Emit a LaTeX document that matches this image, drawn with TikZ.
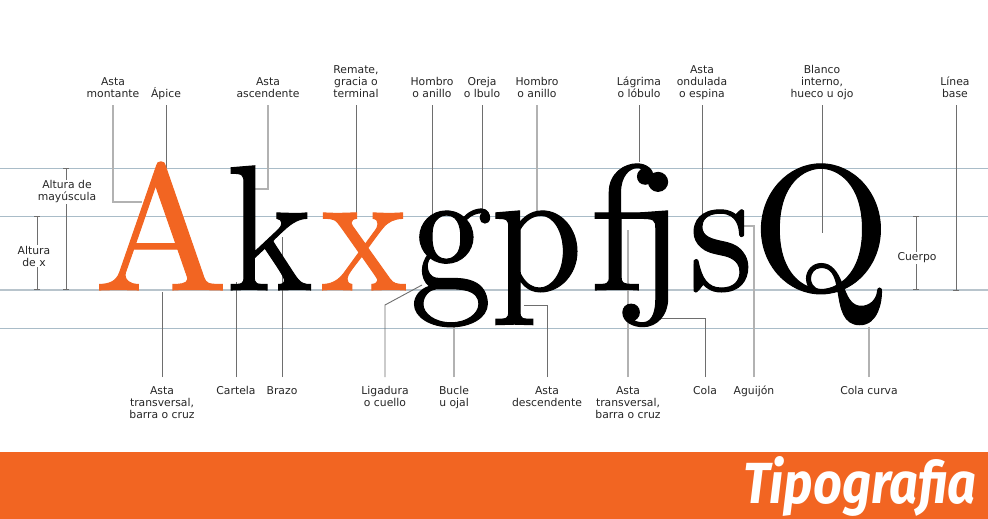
\documentclass[tikz,border=0pt]{standalone}
\usepackage{fontspec}
\usetikzlibrary{arrows.meta}
\newfontfamily\labfont{DejaVu Sans}
\newfontfamily\banfont{Fira Sans}
\newfontfamily\glyphfont{lmroman10-regular.otf}[FakeBold=0.6]
\newcommand{\narrowglyph}[1]{\scalebox{0.92}[1]{#1}}
\definecolor{brandorange}{HTML}{F26522}
\definecolor{guide}{HTML}{A9BCC8}
\definecolor{baseguide}{HTML}{B8C4CC}
\definecolor{leader}{HTML}{6E6E6E}
\definecolor{leaderlight}{HTML}{B2B2B2}
\begin{document}
\begin{tikzpicture}[x=1pt,y=-1pt,
  lab/.style={font=\labfont\fontsize{10.8}{12}\selectfont, align=center, inner sep=0pt, text=black!85},
  toplab/.style={lab, anchor=south, text depth=0pt},
  botlab/.style={lab, anchor=north},
  glyph/.style={font=\glyphfont\fontsize{179}{179}\selectfont, inner sep=0pt, anchor=base},
  lead/.style={draw=leader, line width=0.9pt},
  leadlt/.style={draw=leaderlight, line width=1.6pt},
  guideline/.style={draw=guide, line width=0.9pt},
  dimline/.style={draw=leader, line width=0.9pt, {Bar[width=6pt]}-{Bar[width=6pt]}},
  dimlab/.style={lab, fill=white, inner sep=1pt},
]
\useasboundingbox (0,0) rectangle (988,519);
\fill[white] (0,0) rectangle (988,519);

% guide lines
\foreach \yy in {168,216,328} \draw[guideline] (0,\yy) -- (988,\yy);
\draw[draw=baseguide, line width=1.8pt] (0,290) -- (988,290);

% coordinates (leader ends)
\coordinate (eAM) at (142,202);
\coordinate (eApice) at (166,168);
\coordinate (eAsc) at (253,189);
\coordinate (eRem) at (356,213);
\coordinate (eHom1) at (432,222);
\coordinate (eOre) at (482,218);
\coordinate (eHom2) at (537,217);
\coordinate (eLag) at (639,162);
\coordinate (eOnd) at (702,217);
\coordinate (eBla) at (822,233);
\coordinate (eLin) at (956,290);
\coordinate (eAT1) at (162,292);
\coordinate (eCart) at (236,282);
\coordinate (eBrazo) at (282,237);
\coordinate (cLig) at (385,305);
\coordinate (eLig) at (422,285);
\coordinate (eBuc) at (454,327);
\coordinate (eDesc) at (524,305);
\coordinate (eAT2) at (628,230);
\coordinate (eCola) at (660,318);
\coordinate (eAgui) at (742,226);
\coordinate (eColaC) at (869,327);

% top labels
\node[toplab] (tAM) at (113,98) {Asta\\montante};
\node[toplab] (tApice) at (166,98) {Ápice};
\node[toplab] (tAsc) at (268,98) {Asta\\ascendente};
\node[toplab] (tRem) at (356,98) {Remate,\\gracia o\\terminal};
\node[toplab] (tHom1) at (432,98) {Hombro\\o anillo};
\node[toplab] (tOre) at (482,98) {Oreja\\o lbulo};
\node[toplab] (tHom2) at (537,98) {Hombro\\o anillo};
\node[toplab] (tLag) at (639,98) {Lágrima\\o lóbulo};
\node[toplab] (tOnd) at (702,98) {Asta\\ondulada\\o espina};
\node[toplab] (tBla) at (822,98) {Blanco\\interno,\\hueco u ojo};
\node[toplab] (tLin) at (955,98) {Línea\\base};

% bottom labels
\node[botlab] (bAT1) at (162,386) {Asta\\transversal,\\barra o cruz};
\node[botlab] (bCart) at (236,386) {Cartela};
\node[botlab] (bBrazo) at (282,386) {Brazo};
\node[botlab] (bLig) at (385,386) {Ligadura\\o cuello};
\node[botlab] (bBuc) at (454,386) {Bucle\\u ojal};
\node[botlab] (bDesc) at (547,386) {Asta\\descendente};
\node[botlab] (bAT2) at (628,386) {Asta\\transversal,\\barra o cruz};
\node[botlab] (bCola) at (705,386) {Cola};
\node[botlab] (bAgui) at (754,386) {Aguijón};
\node[botlab] (bColaC) at (869,386) {Cola curva};

% leaders (top)
\draw[leadlt] ([yshift=-7pt]tAM.south) |- (eAM);
\draw[lead] ([yshift=-7pt]tApice.south) -- (eApice);
\draw[leadlt] ([yshift=-7pt]tAsc.south) |- (eAsc);
\draw[lead] ([yshift=-7pt]tRem.south) -- (eRem);
\draw[lead] ([yshift=-7pt]tHom1.south) -- (eHom1);
\draw[lead] ([yshift=-7pt]tOre.south) -- (eOre);
\draw[leadlt] ([yshift=-7pt]tHom2.south) -- (eHom2);
\draw[lead] ([yshift=-7pt]tLag.south) -- (eLag);
\draw[lead] ([yshift=-7pt]tOnd.south) -- (eOnd);
\draw[lead] ([yshift=-7pt]tBla.south) -- (eBla);
\draw[lead] ([yshift=-7pt]tLin.south -| eLin) -- (eLin);
\draw[lead] ([xshift=-3pt]eLin) -- ([xshift=3pt]eLin);

% leaders (bottom)
\draw[lead] ([yshift=9pt]bAT1.north) -- (eAT1);
\draw[lead] ([yshift=9pt]bCart.north) -- (eCart);
\draw[lead] ([yshift=9pt]bBrazo.north) -- (eBrazo);
\draw[lead] ([yshift=9pt]bLig.north) -- (cLig) -- (eLig);
\draw[leadlt] ([yshift=9pt]bBuc.north) -- (eBuc);
\draw[lead] ([yshift=9pt]bDesc.north) |- (eDesc);
\draw[leadlt] ([yshift=9pt]bAT2.north) -- (eAT2);
\draw[lead] ([yshift=9pt]bCola.north) |- (eCola);
\draw[leadlt] ([yshift=9pt]bAgui.north) |- (eAgui);
\draw[leadlt] ([yshift=9pt]bColaC.north) -- (eColaC);

% letters
\node[glyph, text=brandorange] (gA) at (161,290) {A};
\node[glyph] (gk) at (270,290) {\narrowglyph{k}};
\node[glyph, text=brandorange] (gx) at (364,290) {\narrowglyph{x}};
\node[glyph] (gg) at (451,290) {\narrowglyph{g}};
\node[glyph] (gp) at (537,290) {\narrowglyph{p}};
\node[glyph, anchor=base west] (gf) at (589,290) {f};
\node[glyph, anchor=base east] (gj) at (685,290) {j};
\node[glyph] (gs) at (721,290) {\narrowglyph{s}};
\node[glyph] (gQ) at (821,290) {Q};

% dimension markers
\coordinate (mTop) at (66,168);
\coordinate (mBot) at (66,290);
\draw[dimline] (mTop) -- (mBot);
\node[dimlab] (lMay) at (67,192) {Altura de\\mayúscula};
\coordinate (xTop) at (37,216);
\coordinate (xBot) at (37,290);
\draw[dimline] (xTop) -- (xBot);
\node[dimlab] (lX) at (34,256) {Altura\\de x};
\coordinate (cTop) at (916,216);
\coordinate (cBot) at (916,290);
\draw[dimline] (cTop) -- (cBot);
\node[dimlab] (lCuerpo) at (917,258) {Cuerpo};

% banner
\fill[brandorange] (0,452) rectangle (988,519);
\node[font=\banfont\bfseries\itshape\fontsize{58}{58}\selectfont, text=white, anchor=base east, inner sep=0pt] (title) at (977,503) {\scalebox{0.87}[1]{Tipografia}};
\end{tikzpicture}
\end{document}
